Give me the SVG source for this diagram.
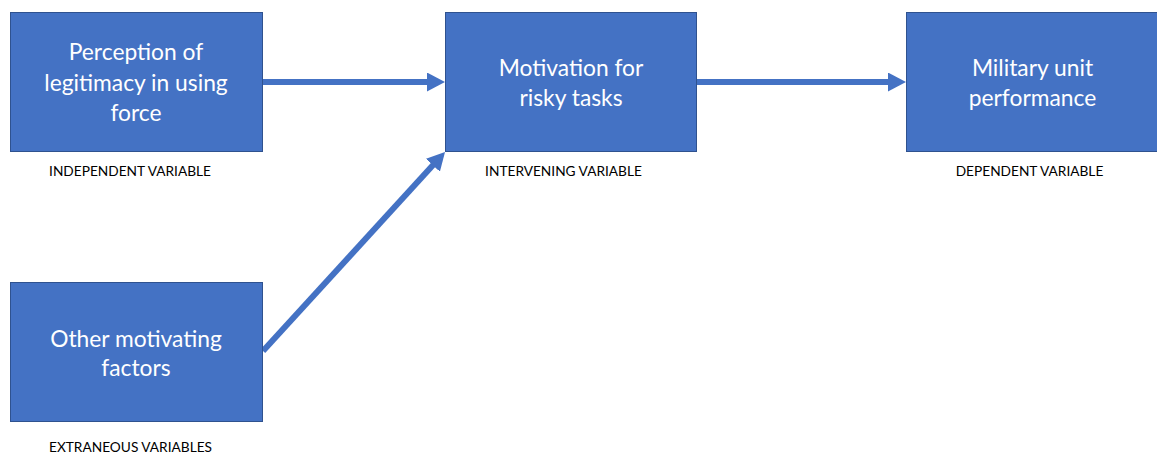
<svg xmlns="http://www.w3.org/2000/svg" width="1157" height="455" viewBox="0 0 1157 455">
<style>
.box{fill:#4472C4;stroke:#2F528F;stroke-width:1}
.t{font-family:Lato,"Liberation Sans",sans-serif;font-size:22.8px;fill:#FFFFFF;text-anchor:middle}
.lbl{font-family:Lato,"Liberation Sans",sans-serif;font-size:13.7px;fill:#000000;text-anchor:middle}
.conn{stroke:#4472C4;stroke-width:6;fill:none}
</style>
<defs>
<marker id="ah" markerUnits="userSpaceOnUse" markerWidth="18" markerHeight="19" viewBox="0 0 18 19" refX="3" refY="9.5" orient="auto">
<path d="M0,0 L18,9.5 L0,19 z" fill="#4472C4"/>
</marker>
</defs>
<rect width="1157" height="455" fill="#FFFFFF"/>
<g id="connectors">
<line class="conn" x1="262" y1="82" x2="430" y2="82" marker-end="url(#ah)"/>
<line class="conn" x1="697" y1="82" x2="891" y2="82" marker-end="url(#ah)"/>
<line class="conn" x1="263" y1="351" x2="434.9" y2="163.1" marker-end="url(#ah)"/>
</g>
<g id="node-perception">
<rect class="box" x="10.5" y="12.5" width="252" height="139"/>
<text class="t" x="136" y="60">Perception of</text>
<text class="t" x="136" y="90.5">legitimacy in using</text>
<text class="t" x="136" y="121">force</text>
<text class="lbl" x="130" y="176">INDEPENDENT VARIABLE</text>
</g>
<g id="node-motivation">
<rect class="box" x="445.5" y="12.5" width="251" height="139"/>
<text class="t" x="571" y="76">Motivation for</text>
<text class="t" x="571" y="105.5">risky tasks</text>
<text class="lbl" x="563.5" y="176">INTERVENING VARIABLE</text>
</g>
<g id="node-performance">
<rect class="box" x="906.5" y="12.5" width="252" height="139"/>
<text class="t" x="1032.5" y="76">Military unit</text>
<text class="t" x="1032.5" y="105.5">performance</text>
<text class="lbl" x="1029.5" y="176">DEPENDENT VARIABLE</text>
</g>
<g id="node-other">
<rect class="box" x="10.5" y="282.5" width="252" height="139"/>
<text class="t" x="136" y="346.5">Other motivating</text>
<text class="t" x="136" y="376">factors</text>
<text class="lbl" x="130.5" y="452">EXTRANEOUS VARIABLES</text>
</g>
</svg>
